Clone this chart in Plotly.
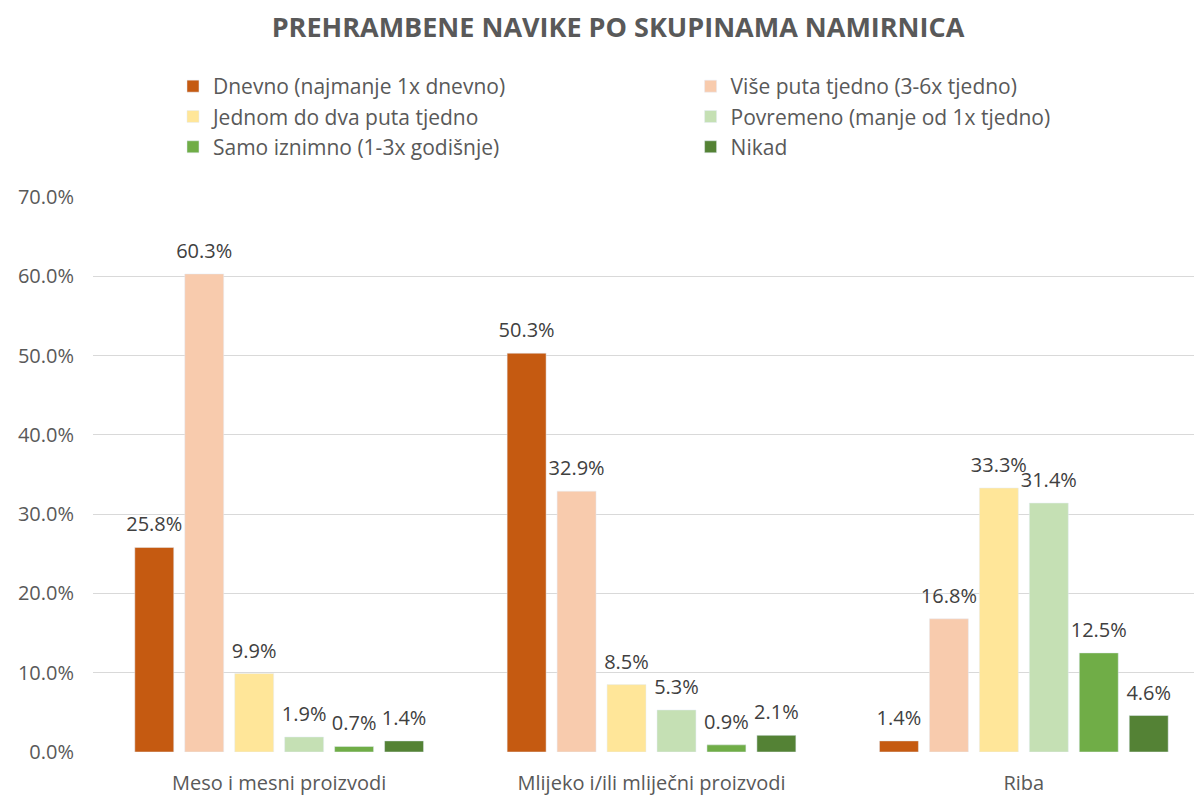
import plotly.graph_objects as go

categories = ["Meso i mesni proizvodi", "Mlijeko i/ili mliječni proizvodi", "Riba"]
series_names = [
    "Dnevno (najmanje 1x dnevno)",
    "Više puta tjedno (3-6x tjedno)",
    "Jednom do dva puta tjedno",
    "Povremeno (manje od 1x tjedno)",
    "Samo iznimno (1-3x godišnje)",
    "Nikad",
]
dnevno = [25.8, 50.3, 1.4]
vise_puta = [60.3, 32.9, 16.8]
jednom_dva = [9.9, 8.5, 33.3]
povremeno = [1.9, 5.3, 31.4]
samo_iznimno = [0.7, 0.9, 12.5]
nikad = [1.4, 2.1, 4.6]
series_values = [dnevno, vise_puta, jednom_dva, povremeno, samo_iznimno, nikad]
colors = ["#C55A11", "#F8CBAD", "#FFE699", "#C5E0B4", "#70AD47", "#548235"]
legend_ids = ["legend", "legend2", "legend", "legend2", "legend", "legend2"]

FONT = "Open Sans"

fig = go.Figure()
for i, (name, vals, col, lg) in enumerate(zip(series_names, series_values, colors, legend_ids)):
    fig.add_trace(go.Bar(
        x=categories, y=vals, name=name, marker_color=col, legend=lg,
        offsetgroup=str(i),
    ))
for i, vals in enumerate(series_values):
    fig.add_trace(go.Scatter(
        x=categories, y=vals, mode="markers+text", showlegend=False,
        offsetgroup=str(i), hoverinfo="skip",
        marker=dict(size=16, opacity=0),
        text=[f"{v:.1f}%" for v in vals], textposition="top center",
        textfont=dict(family=FONT, size=20, color="#404040"),
        cliponaxis=False,
    ))

leg_common = dict(orientation="v", yanchor="top", y=1.236,
                  font=dict(family=FONT, size=21, color="#595959"),
                  itemwidth=30, tracegroupgap=0, bgcolor="rgba(0,0,0,0)")

fig.update_layout(
    width=1202, height=795,
    paper_bgcolor="white", plot_bgcolor="white",
    margin=dict(l=85, r=0, t=189, b=51, autoexpand=False),
    barmode="group", bargap=0.195, bargroupgap=0.22,
    scattermode="group", scattergap=0.195,
    title=dict(text="<b>PREHRAMBENE NAVIKE PO SKUPINAMA NAMIRNICA</b>",
               x=0.5075, xanchor="center", y=0.976, yanchor="middle",
               font=dict(family=FONT, size=27, color="#595959")),
    legend=dict(x=0.0716, xanchor="left", **leg_common),
    legend2=dict(x=0.535, xanchor="left", **leg_common),
)
fig.update_xaxes(showgrid=False, showline=False, range=[-0.5, 2.5],
                 ticklabelstandoff=17,
                 tickfont=dict(family=FONT, size=20, color="#595959"), ticks="")
fig.update_yaxes(range=[0, 70], dtick=10, ticksuffix="%", tickformat=".1f",
                 showgrid=True, gridcolor="#D9D9D9", gridwidth=1, zeroline=False,
                 ticklabelstandoff=18,
                 tickfont=dict(family=FONT, size=20, color="#595959"), ticks="")

fig.write_html("out.html")
